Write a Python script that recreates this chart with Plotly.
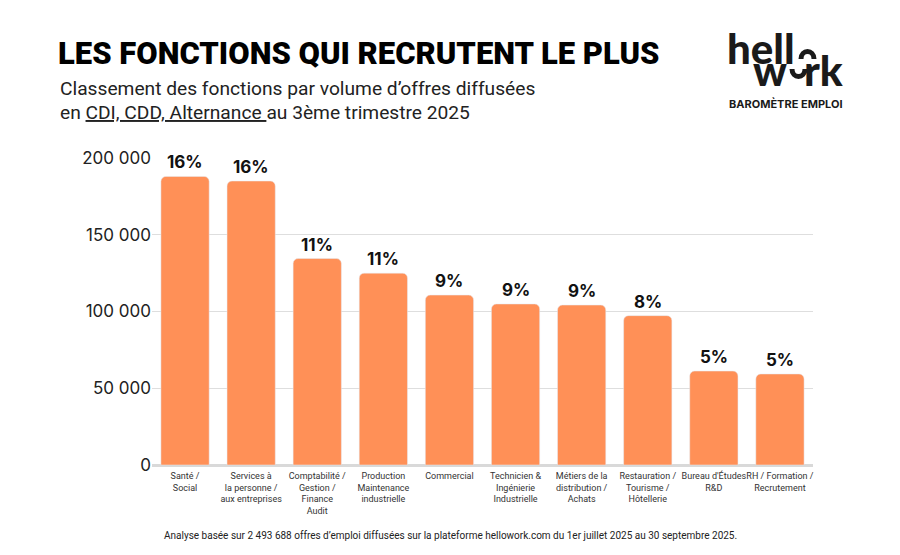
import plotly.graph_objects as go

categories = [
    "Santé /<br>Social",
    "Services à<br>la personne /<br>aux entreprises",
    "Comptabilité /<br>Gestion /<br>Finance<br>Audit",
    "Production<br>Maintenance<br>industrielle",
    "Commercial",
    "Technicien &<br>Ingénierie<br>Industrielle",
    "Métiers de la<br>distribution /<br>Achats",
    "Restauration /<br>Tourisme /<br>Hôtellerie",
    "Bureau d'Études<br>R&D",
    "RH / Formation /<br>Recrutement",
]
offres = [188000, 185000, 134500, 125000, 110700, 104900, 104200, 97300, 61200, 59300]
parts = ["16%", "16%", "11%", "11%", "9%", "9%", "9%", "8%", "5%", "5%"]
y_ticks = [0, 50000, 100000, 150000, 200000]
y_ticklabels = ["0", "50 000", "100 000", "150 000", "200 000"]

W, H = 900, 555
L, R, T, B = 152, 87, 158, 90
pw, ph = W - L - R, H - T - B

def px(x):
    return (x - L) / pw

def py(y):
    return (H - B - y) / ph

x_idx = list(range(len(categories)))
fig = go.Figure()
fig.add_trace(go.Bar(
    x=x_idx, y=offres,
    marker=dict(color="#FF9057", cornerradius=5),
    width=0.73,
    hoverinfo="skip",
))

for i, (v, p) in enumerate(zip(offres, parts)):
    fig.add_annotation(x=i, y=v, text=p, showarrow=False, yanchor="bottom", yshift=2,
                       font=dict(family="Inter", size=17, color="#111111", weight=700))

# title & subtitle
fig.add_annotation(xref="paper", yref="paper", x=px(56), y=py(53), xanchor="left", yanchor="middle",
                   text="LES FONCTIONS QUI RECRUTENT LE PLUS", showarrow=False,
                   font=dict(family="Roboto", size=31, color="#000000", weight=900))
fig.add_annotation(xref="paper", yref="paper", x=px(58), y=py(89), xanchor="left", yanchor="middle",
                   text="Classement des fonctions par volume d’offres diffusées", showarrow=False,
                   font=dict(family="Roboto", size=19.2, color="#222222"))
fig.add_annotation(xref="paper", yref="paper", x=px(58), y=py(113), xanchor="left", yanchor="middle",
                   text="en <u>CDI, CDD, Alternance </u>au 3ème trimestre 2025", showarrow=False,
                   font=dict(family="Roboto", size=19.2, color="#222222"))

# logo
logo_font = dict(family="Lato", size=42, color="#1a1a1a", weight=900)
fig.add_annotation(xref="paper", yref="paper", x=px(725), y=py(48), xanchor="left", yanchor="middle",
                   text="hell", showarrow=False, font=logo_font)
fig.add_annotation(xref="paper", yref="paper", x=px(751), y=py(70), xanchor="left", yanchor="middle",
                   text="w", showarrow=False, font=logo_font)
fig.add_annotation(xref="paper", yref="paper", x=px(845), y=py(70), xanchor="right", yanchor="middle",
                   text="rk", showarrow=False, font=logo_font)
fig.add_shape(type="path", xref="paper", yref="paper",
              path=f"M {px(801)},{py(59)} C {px(801)},{py(49)} {px(814)},{py(49)} {px(814)},{py(59)}",
              line=dict(color="#1a1a1a", width=5))
fig.add_shape(type="path", xref="paper", yref="paper",
              path=f"M {px(792)},{py(69)} C {px(792)},{py(79)} {px(805)},{py(79)} {px(805)},{py(69)}",
              line=dict(color="#1a1a1a", width=5))
fig.add_annotation(xref="paper", yref="paper", x=px(786), y=py(104), xanchor="center", yanchor="middle",
                   text="BAROMÈTRE EMPLOI", showarrow=False,
                   font=dict(family="Inter", size=11, color="#1a1a1a", weight=700))

# footer
fig.add_annotation(xref="paper", yref="paper", x=px(450), y=py(535), xanchor="center", yanchor="middle",
                   text="Analyse basée sur 2 493 688 offres d’emploi diffusées sur la plateforme hellowork.com du 1er juillet 2025 au 30 septembre 2025.",
                   showarrow=False, font=dict(family="Roboto", size=10, color="#222222"))

fig.update_layout(
    width=W, height=H,
    margin=dict(l=L, r=R, t=T, b=B),
    paper_bgcolor="white", plot_bgcolor="white",
    showlegend=False,
    bargap=0.27,
    xaxis=dict(tickmode="array", tickvals=x_idx, ticktext=categories, range=[-0.5, 9.5],
               showgrid=False, zeroline=False, showline=False, ticks="", ticklabelstandoff=4,
               tickfont=dict(family="Roboto", size=9, color="#333333"), tickangle=0),
    yaxis=dict(range=[0, 200000], tickmode="array", tickvals=y_ticks, ticktext=y_ticklabels,
               showgrid=True, gridcolor="#dedede", gridwidth=1,
               zeroline=True, zerolinecolor="#d9d9d9", zerolinewidth=3,
               showline=False, ticks="", ticklen=0, ticklabelstandoff=0,
               tickfont=dict(family="Inter", size=17, color="#222222")),
)

fig.write_html("out.html", config={"displayModeBar": False},
               post_script="document.body.style.margin='0';document.body.style.padding='0';")
